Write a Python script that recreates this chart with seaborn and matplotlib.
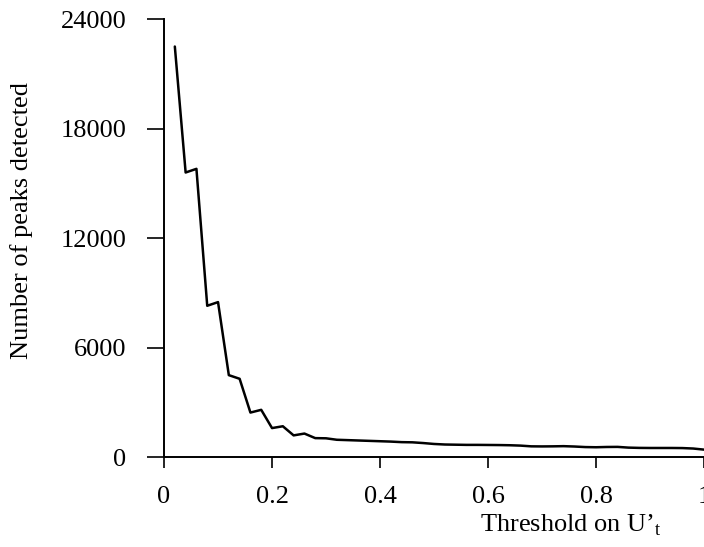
import numpy as np
import pandas as pd
import matplotlib
matplotlib.use("Agg")
import matplotlib.pyplot as plt
import seaborn as sns

# threshold on U't and number of peaks detected
threshold = [0.02, 0.04, 0.06, 0.08, 0.10, 0.12, 0.14, 0.16, 0.18, 0.20,
             0.22, 0.24, 0.26, 0.28, 0.30, 0.32, 0.34, 0.36, 0.38, 0.40,
             0.42, 0.44, 0.46, 0.48, 0.50, 0.52, 0.54, 0.56, 0.58, 0.60,
             0.62, 0.64, 0.66, 0.68, 0.70, 0.72, 0.74, 0.76, 0.78, 0.80,
             0.82, 0.84, 0.86, 0.88, 0.90, 0.92, 0.94, 0.96, 0.98, 1.00]
peaks = [22500, 15600, 15800, 8300, 8500, 4500, 4300, 2450, 2600, 1600,
         1700, 1200, 1300, 1050, 1040, 960, 940, 920, 900, 880,
         860, 830, 820, 780, 730, 700, 690, 680, 680, 675,
         670, 660, 640, 600, 595, 600, 610, 590, 560, 550,
         565, 570, 530, 515, 510, 510, 510, 505, 480, 420]

xticks = [0, 0.2, 0.4, 0.6, 0.8, 1.0]
xticklabels = ["0", "0.2", "0.4", "0.6", "0.8", "1"]
yticks = [0, 6000, 12000, 18000, 24000]

df = pd.DataFrame({"threshold": threshold, "peaks": peaks})

sns.set_style("ticks")
plt.rcParams["font.family"] = ["Liberation Serif", "DejaVu Serif"]
plt.rcParams["mathtext.fontset"] = "custom"
plt.rcParams["mathtext.rm"] = "Liberation Serif"
plt.rcParams["text.color"] = "black"
plt.rcParams["axes.labelcolor"] = "black"
plt.rcParams["xtick.color"] = "black"
plt.rcParams["ytick.color"] = "black"

fig = plt.figure(figsize=(7.04, 5.47), dpi=100)
ax = fig.add_axes([0.233, 0.164, 0.767, 0.801])

sns.lineplot(data=df, x="threshold", y="peaks", color="black", lw=1.8, ax=ax)

ax.set_xlim(0, 1)
ax.set_ylim(0, 24000)
ax.set_xticks(xticks)
ax.set_xticklabels(xticklabels)
ax.set_yticks(yticks)
ax.tick_params(axis="both", which="both", labelsize=19, direction="out",
               color="black", labelcolor="black", width=1.2)
ax.tick_params(axis="x", length=8, pad=13)
ax.tick_params(axis="y", length=12, pad=15)

for s in ["top", "right"]:
    ax.spines[s].set_visible(False)
for s in ["left", "bottom"]:
    ax.spines[s].set_linewidth(1.4)
    ax.spines[s].set_color("black")

ax.set_xlabel("Threshold on U’$_{\\rm t}$", fontsize=19, color="black")
ax.xaxis.set_label_coords(0.754, -0.125)
ax.set_ylabel("Number of peaks detected", fontsize=19, color="black")
ax.yaxis.set_label_coords(-0.243, 0.54)

plt.savefig("out.png", dpi=100)
plt.close()
